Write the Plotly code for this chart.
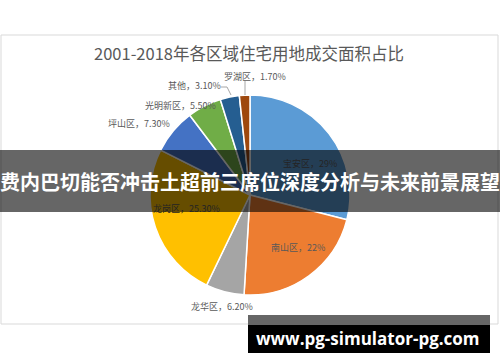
import plotly.graph_objects as go

# ---- data ----
regions = ["宝安区", "南山区", "龙华区", "龙岗区", "坪山区", "光明新区", "其他", "罗湖区"]
shares = [29.0, 22.0, 6.2, 25.3, 7.3, 5.5, 3.1, 1.7]
share_text = ["29%", "22%", "6.20%", "25.30%", "7.30%", "5.50%", "3.10%", "1.70%"]
colors = ["#5B9BD5", "#ED7D31", "#A5A5A5", "#FFC000", "#4472C4", "#70AD47", "#255E91", "#9E480E"]
title_text = "2001-2018年各区域住宅用地成交面积占比"
banner_text = "费内巴切能否冲击土超前三席位深度分析与未来前景展望"
watermark_text = "www.pg-simulator-pg.com"

W, H = 500, 362
def px(x):
    return x / W
def py(y):
    return 1 - y / H

# pie geometry (pixels)
cx, cy, r = 250, 195, 100

fig = go.Figure()
fig.add_trace(go.Pie(
    labels=regions, values=shares, sort=False, direction="clockwise", rotation=0,
    marker=dict(colors=colors, line=dict(color="white", width=1.5)),
    textinfo="none", hoverinfo="label+percent", showlegend=False,
    domain=dict(x=[px(cx - r), px(cx + r)], y=[py(cy + r), py(cy - r)]),
))

# label positions (pixel centers) and whether under the banner
label_pos = [(310, 163), (298, 247), (222, 306), (186, 208), (139, 123), (180, 105), (194, 85), (255, 76)]
under_banner = [True, False, False, True, False, False, False, False]

annotations = []
for name, txt, (lx, ly), ub in zip(regions, share_text, label_pos, under_banner):
    annotations.append(dict(
        x=px(lx), y=py(ly), xref="paper", yref="paper", showarrow=False,
        text=f"{name}，{txt}", xanchor="center", yanchor="middle",
        font=dict(family="Noto Sans CJK SC", size=9, color="#242424" if ub else "#595959"),
    ))

annotations.append(dict(
    x=px(249), y=py(53), xref="paper", yref="paper", showarrow=False,
    text=title_text, xanchor="center", yanchor="middle",
    font=dict(family="Noto Sans CJK SC", size=16.5, color="#595959"),
))
annotations.append(dict(
    x=px(250), y=py(181), xref="paper", yref="paper", showarrow=False,
    text=f"<b>{banner_text}</b>", xanchor="center", yanchor="middle",
    font=dict(family="Noto Sans CJK SC", size=20, color="white"),
))
annotations.append(dict(
    x=px(368), y=py(338), xref="paper", yref="paper", showarrow=False,
    text=f"<b>{watermark_text}</b>", xanchor="center", yanchor="middle",
    font=dict(family="Open Sans", size=17, color="white"),
))

shapes = [
    # chart border
    dict(type="rect", xref="paper", yref="paper", x0=px(1), x1=px(498), y0=py(324), y1=py(35),
         line=dict(color="#D9D9D9", width=1), fillcolor="rgba(0,0,0,0)", layer="below"),
    # leader lines
    dict(type="line", xref="paper", yref="paper", x0=px(245), x1=px(245), y0=py(81), y1=py(95),
         line=dict(color="#A6A6A6", width=1)),
    dict(type="path", xref="paper", yref="paper",
         path=f"M {px(221)} {py(87)} L {px(227)} {py(87)} L {px(231)} {py(95)}",
         line=dict(color="#A6A6A6", width=1)),
    # banner
    dict(type="rect", xref="paper", yref="paper", x0=0, x1=1, y0=py(212), y1=py(150),
         line=dict(width=0), fillcolor="rgba(0,0,0,0.6)", layer="above"),
    # watermark boxes
    dict(type="rect", xref="paper", yref="paper", x0=px(248), x1=px(490), y0=py(325), y1=py(315),
         line=dict(width=0), fillcolor="#666666", layer="above"),
    dict(type="rect", xref="paper", yref="paper", x0=px(248), x1=px(490), y0=py(353), y1=py(325),
         line=dict(width=0), fillcolor="#000000", layer="above"),
]

fig.update_layout(
    width=W, height=H, margin=dict(l=0, r=0, t=0, b=0),
    paper_bgcolor="white", plot_bgcolor="white",
    annotations=annotations, shapes=shapes,
)
fig.write_html("out.html", config={"displayModeBar": False},
               post_script="document.body.style.margin='0';document.body.style.overflow='hidden';")
